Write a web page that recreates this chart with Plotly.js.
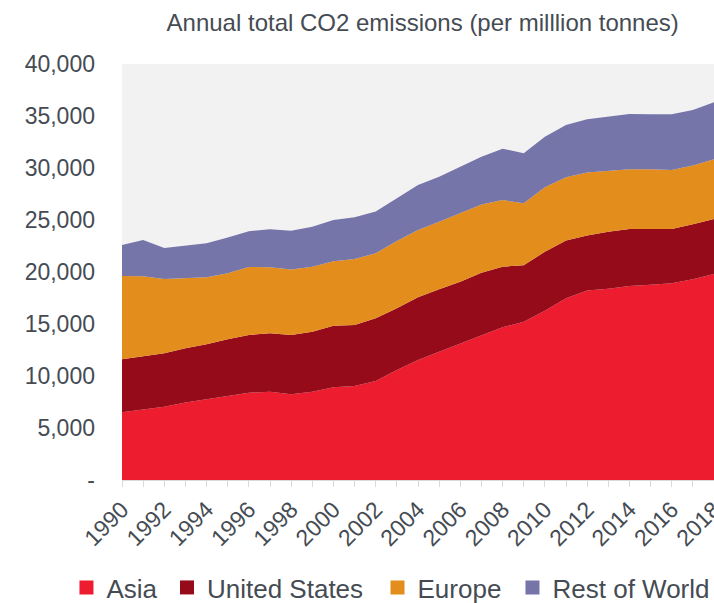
<!DOCTYPE html>
<html>
<head>
<meta charset="utf-8">
<script src="https://cdn.plot.ly/plotly-3.0.1.min.js"></script>
<style>
  html, body { margin: 0; padding: 0; background: #ffffff; }
  #chart { width: 714px; height: 603px; }
</style>
</head>
<body>
<div id="chart"></div>
<script>
// Annual CO2 emissions by region, million tonnes
const years = [1990, 1991, 1992, 1993, 1994, 1995, 1996, 1997, 1998, 1999,
               2000, 2001, 2002, 2003, 2004, 2005, 2006, 2007, 2008, 2009,
               2010, 2011, 2012, 2013, 2014, 2015, 2016, 2017, 2018];

const asia = [6510, 6800, 7050, 7440, 7760, 8080, 8400, 8490, 8240, 8490,
              8910, 9040, 9520, 10580, 11540, 12340, 13140, 13940, 14680, 15220,
              16280, 17470, 18210, 18400, 18650, 18780, 18910, 19300, 19810];

const unitedStates = [5100, 5060, 5130, 5220, 5290, 5450, 5550, 5610, 5700, 5770,
                      5930, 5870, 6030, 5930, 6030, 5990, 5930, 5990, 5830, 5420,
                      5670, 5550, 5290, 5480, 5480, 5350, 5230, 5290, 5290];

const europe = [8010, 7720, 7150, 6730, 6440, 6350, 6540, 6350, 6310, 6250,
                6190, 6350, 6250, 6480, 6470, 6510, 6570, 6570, 6410, 5960,
                6190, 6090, 6060, 5800, 5740, 5740, 5670, 5640, 5740];

const restOfWorld = [2980, 3490, 2980, 3140, 3270, 3430, 3430, 3650, 3720, 3850,
                     3970, 4010, 4010, 4100, 4330, 4330, 4490, 4580, 4940, 4810,
                     4870, 5030, 5130, 5260, 5320, 5290, 5350, 5350, 5480];

const seriesNames = ['Asia', 'United States', 'Europe', 'Rest of World'];
const seriesColors = ['#ed1c2e', '#960b1a', '#e38d1c', '#7575aa'];
const seriesValues = [asia, unitedStates, europe, restOfWorld];

const yTickVals = [0, 5000, 10000, 15000, 20000, 25000, 30000, 35000, 40000];
const yTickText = ['-', '5,000', '10,000', '15,000', '20,000', '25,000', '30,000', '35,000', '40,000'];
const xTickVals = [1990, 1992, 1994, 1996, 1998, 2000, 2002, 2004, 2006, 2008,
                   2010, 2012, 2014, 2016, 2018];

const textColor = '#454b53';
const fontFamily = '"Liberation Sans", Arial, sans-serif';

// one legend box per series so each key sits at its own spot along the bottom row
const legendIds = ['legend', 'legend2', 'legend3', 'legend4'];
const legendX = [-0.0938, 0.076, 0.4316, 0.6596];

// stacked areas
const traces = seriesValues.map((vals, i) => ({
  type: 'scatter',
  mode: 'lines',
  x: years,
  y: vals,
  stackgroup: 'co2',
  name: seriesNames[i],
  line: { width: 0, color: seriesColors[i] },
  fillcolor: seriesColors[i],
  showlegend: false,
  hoverinfo: 'x+y+name'
}));

// square legend keys
seriesNames.forEach((name, i) => {
  traces.push({
    type: 'scatter',
    mode: 'markers',
    x: [null],
    y: [null],
    name: name,
    legend: legendIds[i],
    marker: { symbol: 'square', size: 14, color: seriesColors[i] },
    showlegend: true,
    hoverinfo: 'skip'
  });
});

const layout = {
  width: 714,
  height: 603,
  margin: { l: 122, r: 0, t: 64, b: 123, autoexpand: false },
  paper_bgcolor: '#ffffff',
  plot_bgcolor: '#f2f2f2',
  font: { family: fontFamily, color: textColor, size: 21 },
  title: {
    text: 'Annual total CO2 emissions (per milllion tonnes)',
    font: { family: fontFamily, size: 24, color: textColor },
    xref: 'container',
    x: 0.592,
    xanchor: 'center',
    yref: 'container',
    y: 0.962,
    yanchor: 'middle'
  },
  xaxis: {
    range: [1990, 2018],
    tickmode: 'array',
    tickvals: xTickVals,
    ticktext: xTickVals.map(String),
    tickangle: -45,
    tickfont: { size: 23, color: textColor },
    ticklabeloverflow: 'allow',
    ticks: 'outside',
    ticklen: 6,
    tickcolor: '#d9d9d9',
    minor: { dtick: 1, tick0: 1990, ticks: 'outside', ticklen: 6, tickcolor: '#d9d9d9' },
    showline: true,
    linecolor: '#d9d9d9',
    linewidth: 1,
    showgrid: false,
    zeroline: false,
    automargin: false,
    fixedrange: true
  },
  yaxis: {
    range: [0, 40000],
    tickmode: 'array',
    tickvals: yTickVals,
    ticktext: yTickText,
    tickfont: { size: 23, color: textColor },
    ticks: '',
    ticklabelstandoff: 26,
    showline: false,
    showgrid: false,
    zeroline: false,
    automargin: false,
    fixedrange: true
  },
  showlegend: true
};

legendIds.forEach((id, i) => {
  layout[id] = {
    orientation: 'h',
    x: legendX[i],
    xanchor: 'left',
    y: -0.202,
    yanchor: 'top',
    font: { family: fontFamily, size: 26, color: textColor },
    bgcolor: 'rgba(0,0,0,0)'
  };
});

Plotly.newPlot('chart', traces, layout, { displayModeBar: false, staticPlot: true });
</script>
</body>
</html>
